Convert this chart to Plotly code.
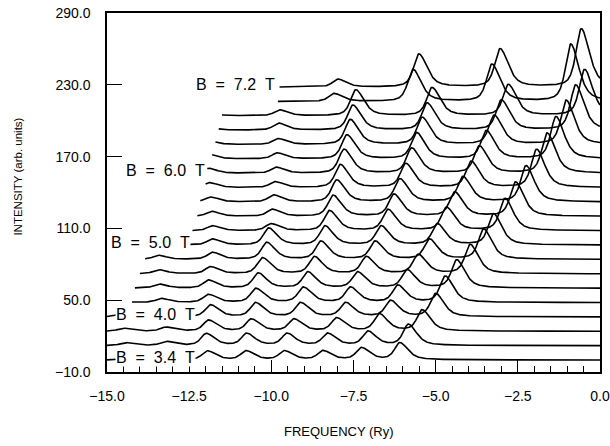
import numpy as np
import plotly.graph_objects as go

# ---- data ----
B_FIELD = [3.4, 3.6, 3.8, 4.0, 4.2, 4.4, 4.6, 4.8, 5.0, 5.2,
           5.4, 5.6, 5.8, 6.0, 6.2, 6.4, 6.6, 6.8, 7.0, 7.2]
TRACE_OFFSET = 12.0  # vertical shift between successive spectra (arb. units)
START_X = [-15.0, -15.0, -15.0, -15.0, -14.24, -14.15, -14.0, -13.84, -13.7, -12.4,
           -12.25, -12.16, -12.0, -11.95, -11.8, -11.7, -11.6, -11.5, -9.8, -9.75]
PEAK0_X = [-11.94, -11.98, -11.91, -11.85, -11.91, -11.91, -11.85, -11.79, -11.79, -11.79,
           -11.82, -11.85, -11.88, -11.91, -11.94, -11.98, -12.04, -12.07, -12.89, -12.92]
PEAK_SPACING = [1.17, 1.23, 1.30, 1.37, 1.44, 1.51, 1.58, 1.65, 1.71, 1.78,
                1.85, 1.92, 1.99, 2.06, 2.12, 2.19, 2.26, 2.32, 2.40, 2.47]
PEAK_ORDERS = [-2, -1, 0, 1, 2, 3, 4, 5]
PEAK_HEIGHTS = [
    [2.5, 2.5, 7.5, 7.5, 7.5, 7.5, 10.0, 14.2],
    [2.5, 3.4, 10.0, 10.0, 10.0, 10.0, 11.7, 17.6],
    [2.5, 3.4, 9.2, 10.0, 10.0, 10.9, 14.2, 17.6],
    [2.5, 3.4, 10.0, 11.7, 11.7, 11.7, 13.4, 19.3],
    [1.7, 3.4, 6.7, 11.7, 12.6, 12.6, 14.2, 21.8],
    [1.7, 3.4, 6.7, 12.6, 13.4, 13.4, 15.1, 23.5],
    [1.7, 3.4, 5.9, 13.4, 14.2, 14.2, 15.9, 24.3],
    [1.7, 3.4, 5.9, 14.2, 15.1, 15.1, 16.8, 25.1],
    [1.7, 3.4, 5.0, 14.2, 15.9, 15.9, 17.6, 26.0],
    [0.0, 0.0, 4.2, 5.9, 16.8, 17.6, 19.3, 26.8],
    [0.0, 0.0, 4.2, 5.9, 17.6, 18.4, 20.1, 28.5],
    [0.0, 0.0, 4.2, 5.9, 18.4, 19.3, 21.0, 30.2],
    [0.0, 0.0, 4.2, 5.0, 19.3, 20.1, 21.8, 31.9],
    [0.0, 0.0, 4.2, 5.0, 20.1, 21.0, 22.6, 33.5],
    [0.0, 0.0, 4.2, 5.0, 20.1, 21.8, 23.5, 35.2],
    [0.0, 0.0, 4.2, 5.0, 21.0, 22.6, 24.3, 36.9],
    [0.0, 0.0, 4.2, 5.9, 21.0, 22.6, 25.1, 37.7],
    [0.0, 0.0, 4.2, 5.0, 21.8, 23.5, 26.0, 38.6],
    [0.0, 0.0, 0.0, 0.0, 6.7, 26.8, 31.0, 47.8],
    [0.0, 0.0, 0.0, 0.0, 6.7, 27.7, 31.9, 48.6],
]
LABELED_FIELDS = [3.4, 4.0, 5.0, 6.0, 7.2]
LABEL_RIGHT_X = [-12.3, -12.3, -12.45, -11.98, -9.85]
X_TICKS = [-15.0, -12.5, -10.0, -7.5, -5.0, -2.5, 0.0]
Y_TICKS = [-10.0, 50.0, 110.0, 170.0, 230.0, 290.0]

# line-shape: pseudo-Voigt half widths (Ry) left / right of each peak
GAMMA_LEFT, GAMMA_RIGHT, ETA = 0.19, 0.29, 0.6


def spectrum(x, centers, heights):
    y = np.zeros_like(x)
    for c, h in zip(centers, heights):
        if h <= 0:
            continue
        g = np.where(x < c, GAMMA_LEFT, GAMMA_RIGHT)
        u = (x - c) / g
        lor = 1.0 / (1.0 + u ** 2)
        gau = np.exp(-np.log(2.0) * u ** 2)
        y += h * (ETA * lor + (1 - ETA) * gau)
    return y


fig = go.Figure()
for i, b in enumerate(B_FIELD):
    x = np.linspace(START_X[i], 0.0, 900)
    centers = [PEAK0_X[i] + n * PEAK_SPACING[i] for n in PEAK_ORDERS]
    y = TRACE_OFFSET * i + spectrum(x, centers, PEAK_HEIGHTS[i])
    fig.add_trace(go.Scatter(x=x, y=y, mode="lines",
                             line=dict(color="black", width=1.6),
                             hoverinfo="skip", showlegend=False))

font_main = "Liberation Sans, Arial, sans-serif"

annotations = []
for b, xr in zip(LABELED_FIELDS, LABEL_RIGHT_X):
    i = B_FIELD.index(b)
    annotations.append(dict(
        x=xr, y=TRACE_OFFSET * i + 2, xref="x", yref="y",
        text="B \u00a0= \u00a0%.1f \u00a0T" % b, showarrow=False,
        xanchor="right", yanchor="middle",
        font=dict(family=font_main, size=16, color="black"),
        bgcolor="white", borderpad=0))

annotations.append(dict(x=0.47, y=-0.165, xref="paper", yref="paper",
                        text="FREQUENCY (Ry)", showarrow=False,
                        xanchor="center", yanchor="middle",
                        font=dict(family=font_main, size=13, color="black")))
annotations.append(dict(x=-0.18, y=0.545, xref="paper", yref="paper",
                        text="INTENSITY (arb. units)", showarrow=False, textangle=-90,
                        xanchor="center", yanchor="middle",
                        font=dict(family=font_main, size=11.5, color="black")))

fig.update_layout(
    width=610, height=446,
    margin=dict(l=107, r=10, t=13, b=74, autoexpand=False),
    paper_bgcolor="white", plot_bgcolor="white",
    annotations=annotations,
    font=dict(family=font_main, size=14, color="black"),
)
fig.update_xaxes(range=[-15, 0], tickvals=X_TICKS, tickformat=".1f",
                 ticks="inside", ticklen=12, tickwidth=1.2, tickcolor="black",
                 minor=dict(dtick=0.5, ticks="inside", ticklen=6, tickwidth=1, tickcolor="black"),
                 showline=True, linecolor="black", linewidth=1.5, mirror=True,
                 showgrid=False, zeroline=False, ticklabelstandoff=10, automargin=False,
                 tickfont=dict(family=font_main, size=14))
fig.update_yaxes(range=[-10, 290], tickvals=Y_TICKS, tickformat=".1f",
                 ticks="inside", ticklen=15, tickwidth=1.2, tickcolor="black",
                 showline=True, linecolor="black", linewidth=1.5, mirror=True,
                 showgrid=False, zeroline=False, ticklabelstandoff=12, automargin=False,
                 tickfont=dict(family=font_main, size=14))

# remove the browser's default 8 px page margin so the figure fills the window
fig.write_html("out.html",
               config={"displayModeBar": False},
               post_script="document.body.style.margin='0';document.body.style.overflow='hidden';")
